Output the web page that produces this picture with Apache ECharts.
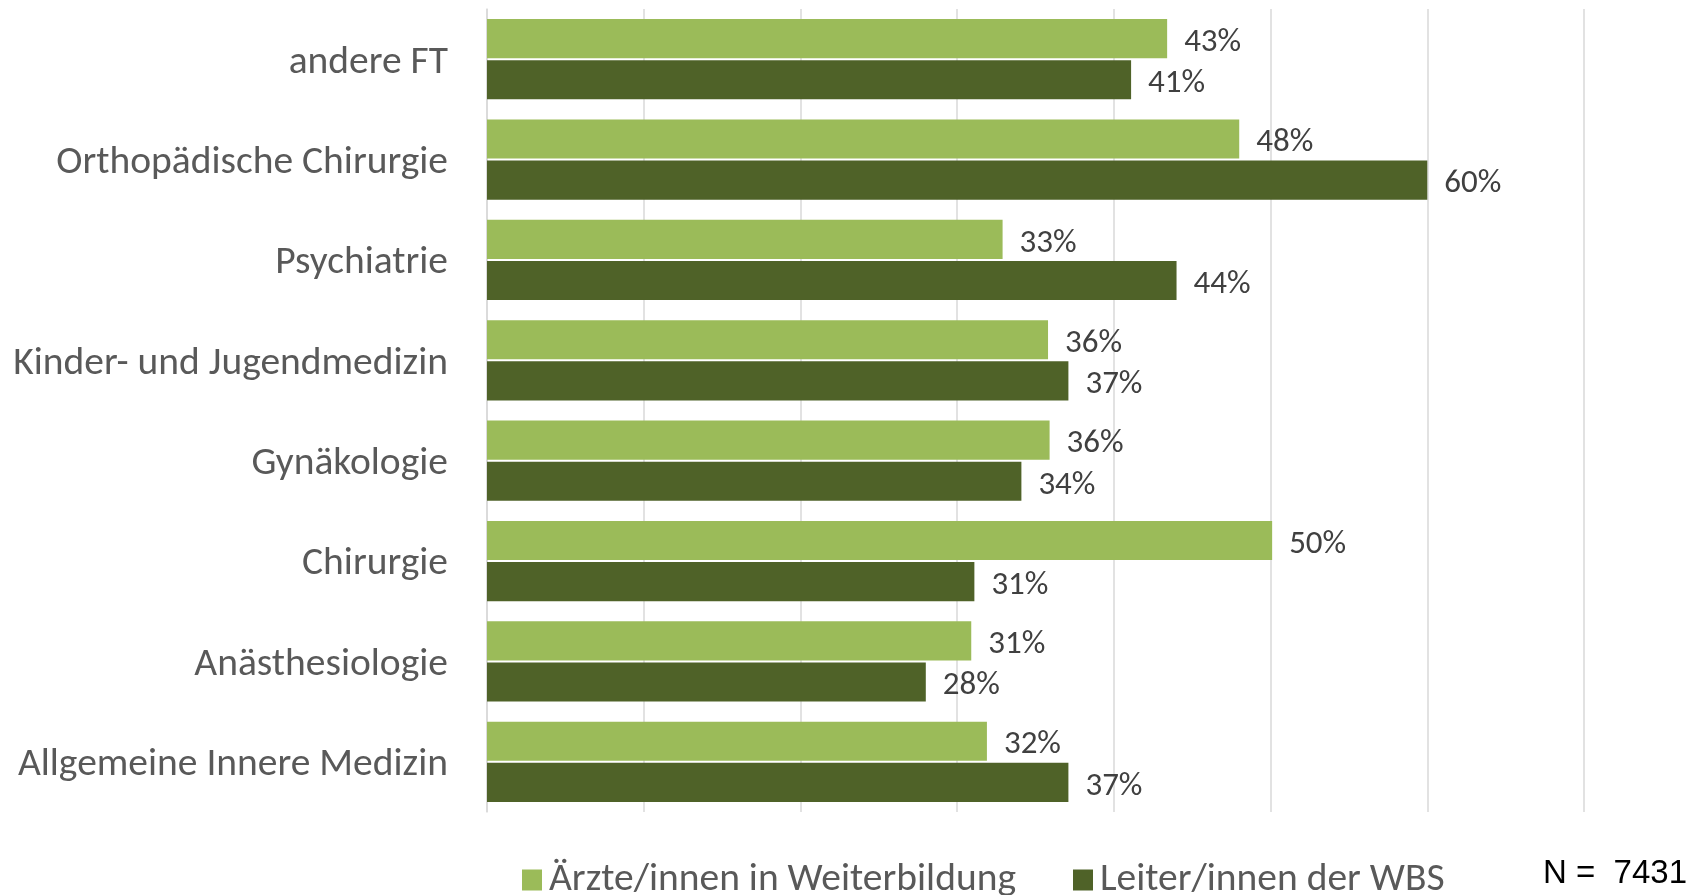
<!DOCTYPE html>
<html>
<head>
<meta charset="utf-8">
<script src="https://cdn.jsdelivr.net/npm/echarts@6/dist/echarts.min.js"></script>
<style>
    html, body { margin: 0; padding: 0; background: #fff; }
    #chart { width: 1707px; height: 895px; }
</style>
</head>
<body>
<div id="chart"></div>
<script>
// Fachrichtungen, von oben nach unten
const categories = ['andere FT', 'Orthopädische Chirurgie', 'Psychiatrie', 'Kinder- und Jugendmedizin', 'Gynäkologie', 'Chirurgie', 'Anästhesiologie', 'Allgemeine Innere Medizin']
const seriesNames = ['Ärzte/innen in Weiterbildung', 'Leiter/innen der WBS']
const aerzte  = [43.4, 48.0, 32.9, 35.8, 35.9, 50.1, 30.9, 31.9]   // in %, aus dem Bild geschätzt
const leiter  = [41.1, 60.0, 44.0, 37.1, 34.1, 31.1, 28.0, 37.1]   // in %
const sampleN = 7431

const font = 'Carlito, Lato, sans-serif'

let chart = echarts.init(document.getElementById('chart'))

let label = {
    show: true,
    position: 'right',
    distance: 17,
    offset: [0, 4],
    formatter: p => Math.round(p.value) + '%',
    color: '#404040',
    fontFamily: font,
    fontSize: 33
}

let option = {
    animation: false,
    grid: { left: 487, right: 123, top: 9, bottom: 83 },
    legend: {
        data: seriesNames,
        left: 517,
        top: 855,
        itemWidth: 20,
        itemHeight: 21,
        itemGap: 57,
        icon: 'rect',
        textStyle: { color: '#595959', fontFamily: font, fontSize: 39.5, padding: [0, 0, 0, 2] }
    },
    graphic: [{
        type: 'text',
        left: 1543,
        top: 857,
        style: { text: 'N =  ' + sampleN, fill: '#000', font: '33px "Liberation Sans Narrow", "Liberation Sans", sans-serif' }
    }],
    xAxis: {
        type: 'value',
        min: 0,
        max: 70,
        interval: 10,
        axisLabel: { show: false },
        axisLine: { show: false },
        axisTick: { show: false },
        splitLine: { lineStyle: { color: '#d9d9d9', width: 1.5 } }
    },
    yAxis: {
        type: 'category',
        data: categories,
        inverse: true,
        axisTick: { show: false },
        axisLine: { lineStyle: { color: '#d9d9d9', width: 1.5 } },
        // Text etwas unter die Bandmitte rücken wie im Original
        axisLabel: { margin: 39, color: '#595959', fontFamily: font, fontSize: 39.5, verticalAlign: 'top', lineHeight: 7 }
    },
    series: [
        {
            name: seriesNames[0],
            type: 'bar',
            data: aerzte,
            itemStyle: { color: '#9bbb59' },
            barGap: '5%',
            barCategoryGap: '20%',
            label: label
        },
        {
            name: seriesNames[1],
            type: 'bar',
            data: leiter,
            itemStyle: { color: '#4f6228' },
            barGap: '5%',
            barCategoryGap: '20%',
            label: label
        }
    ]
}

chart.setOption(option)
</script>
</body>
</html>
